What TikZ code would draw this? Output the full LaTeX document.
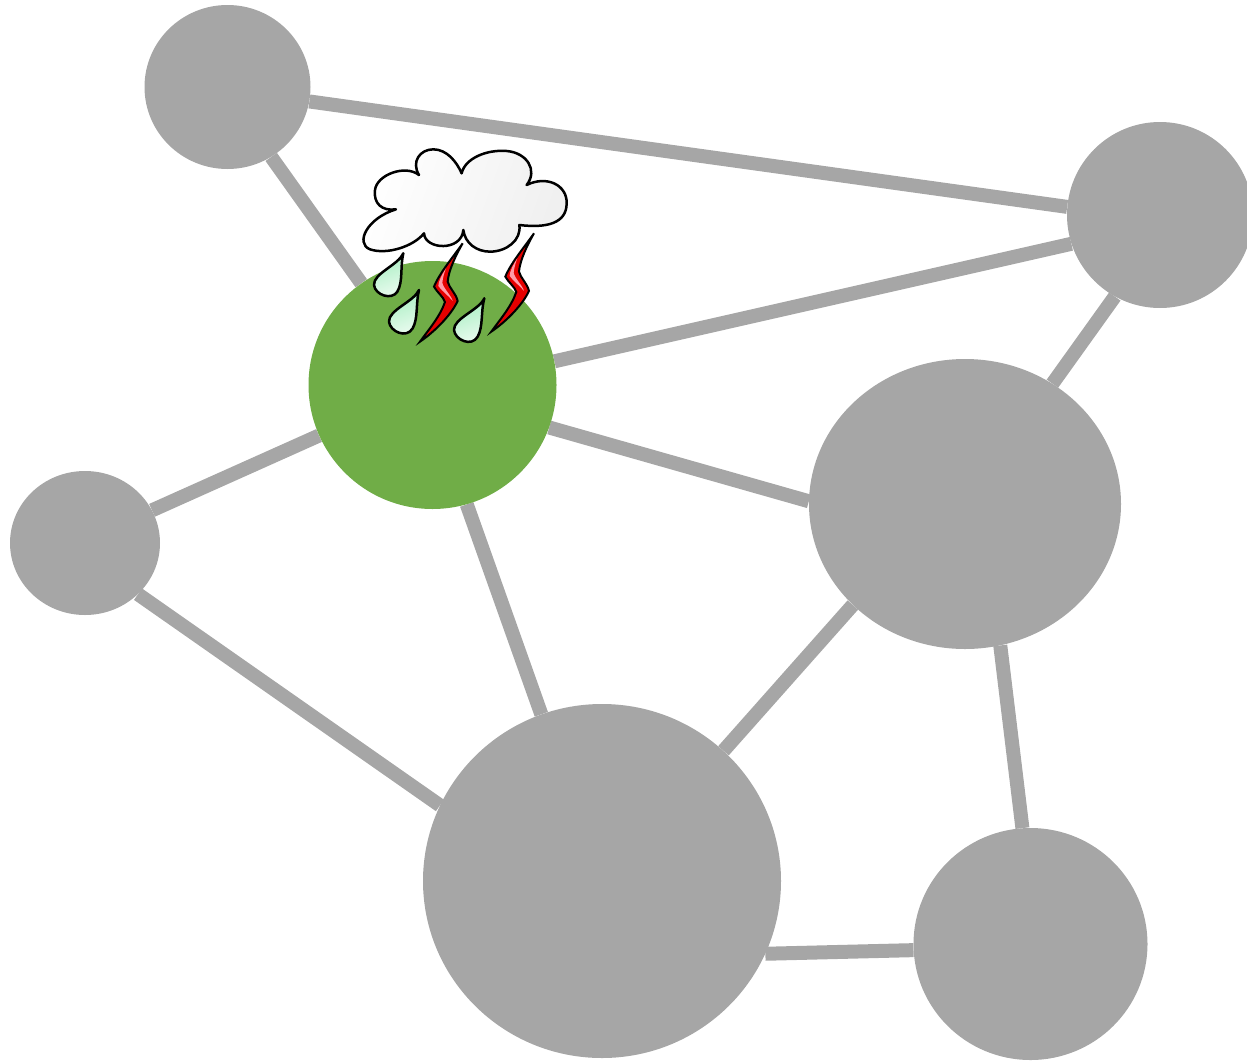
\documentclass[tikz,border=0pt]{standalone}
\usetikzlibrary{shapes.geometric,backgrounds}
\definecolor{netgray}{HTML}{A6A6A6}
\definecolor{netgreen}{HTML}{70AD47}
\definecolor{dropdark}{HTML}{A6EEC0}
\definecolor{dropligh}{HTML}{EFFCF3}
\definecolor{boltpink}{HTML}{FF9AA8}
\tikzset{
  site/.style={ellipse,fill=netgray,draw=none,inner sep=0pt},
  hitsite/.style={site,fill=netgreen},
  link/.style={draw=netgray,line width=14pt},
  inkline/.style={draw=black,line width=2.5pt,line join=round},
  dropshape/.style={inkline,left color=dropdark,right color=dropligh,shading angle=20},
  boltshape/.style={draw=black,line width=2pt,line join=miter,fill=red!90!black},
  boltglow/.style={fill=boltpink,draw=none}
}
\newcommand{\stormbolt}{%
\path[boltshape] (338,310) .. controls (310,350) and (268,400) .. (252,440)
 .. controls (262,458) and (280,470) .. (285,486)
 .. controls (270,530) and (235,570) .. (210,605)
 .. controls (250,578) and (302,528) .. (323,483)
 .. controls (318,460) and (298,445) .. (293,425)
 .. controls (296,390) and (318,345) .. (338,310) -- cycle;
\path[boltglow] (288,385) .. controls (275,405) and (265,425) .. (265,438)
 .. controls (277,455) and (297,468) .. (308,483)
 .. controls (305,468) and (280,445) .. (277,428) .. controls (279,410) and (284,395) .. (288,385) -- cycle;
}
\begin{document}
\begin{tikzpicture}[x=1pt,y=-1pt]
\useasboundingbox (0,0) rectangle (1247,1063);
\begin{scope}
\clip (0,0) rectangle (1247,1063);
\node[site,minimum width=166pt,minimum height=164pt] (a) at (227.5,87) {};
\node[site,minimum width=186pt,minimum height=186pt] (b) at (1160,215) {};
\node[hitsite,minimum width=248pt,minimum height=248pt] (c) at (432.5,385) {};
\node[site,minimum width=150pt,minimum height=144pt] (d) at (85,543) {};
\node[site,minimum width=312pt,minimum height=290pt] (e) at (965,504) {};
\node[site,minimum width=358pt,minimum height=354pt] (f) at (602,881) {};
\node[site,minimum width=234pt,minimum height=232pt] (g) at (1030.5,944) {};
\end{scope}
\begin{scope}[on background layer]
\draw[link] (a.-10.6) -- (b.175);
\draw[link] (a.-58.7) -- (c.125.4);
\draw[link] (c.11.8) -- (b.198);
\draw[link] (c.-20.3) -- (e.179.6);
\draw[link] (c.204.5) -- (d.26);
\draw[link] (c.-74.8) -- (f.110.3);
\draw[link] (d.-44.5) -- (f.155.9);
\draw[link] (e.54.3) -- (b.241.8);
\draw[link] (e.222.8) -- (f.47);
\draw[link] (e.-76.4) -- (g.94.2);
\draw[link] (f.-24.7) -- (g.183.9);
\end{scope}
% storm symbol, in coordinates of a 3x crop
\begin{scope}[shift={(350,140)},x=0.3333pt,y=-0.3333pt]
\path[inkline,left color=white,right color=black!6,shading angle=70]
 (138,208) .. controls (95,214) and (70,190) .. (75,150)
 .. controls (80,105) and (165,72) .. (207,105)
 .. controls (183,65) and (210,28) .. (250,28)
 .. controls (290,28) and (320,65) .. (335,100)
 .. controls (345,55) and (410,28) .. (470,33)
 .. controls (530,38) and (565,90) .. (530,135)
 .. controls (590,105) and (652,135) .. (650,190)
 .. controls (650,250) and (590,265) .. (508,255)
 .. controls (515,300) and (470,335) .. (420,335)
 .. controls (380,335) and (345,310) .. (340,270)
 .. controls (335,335) and (225,330) .. (222,280)
 .. controls (190,320) and (110,345) .. (60,328)
 .. controls (15,310) and (50,235) .. (138,208) -- cycle;
\path[dropshape] (160,340) .. controls (145,375) and (70,400) .. (72,435)
 .. controls (75,465) and (125,482) .. (142,455) .. controls (160,425) and (150,380) .. (160,340) -- cycle;
\path[dropshape] (207,450) .. controls (192,485) and (115,510) .. (117,545)
 .. controls (120,575) and (170,597) .. (188,565) .. controls (205,535) and (197,490) .. (207,450) -- cycle;
\path[dropshape] (403,475) .. controls (388,510) and (310,535) .. (312,570)
 .. controls (315,600) and (365,622) .. (383,590) .. controls (400,560) and (392,515) .. (403,475) -- cycle;
\stormbolt
\begin{scope}[shift={(214,-30)}]
\stormbolt
\end{scope}
\end{scope}
\end{tikzpicture}
\end{document}
